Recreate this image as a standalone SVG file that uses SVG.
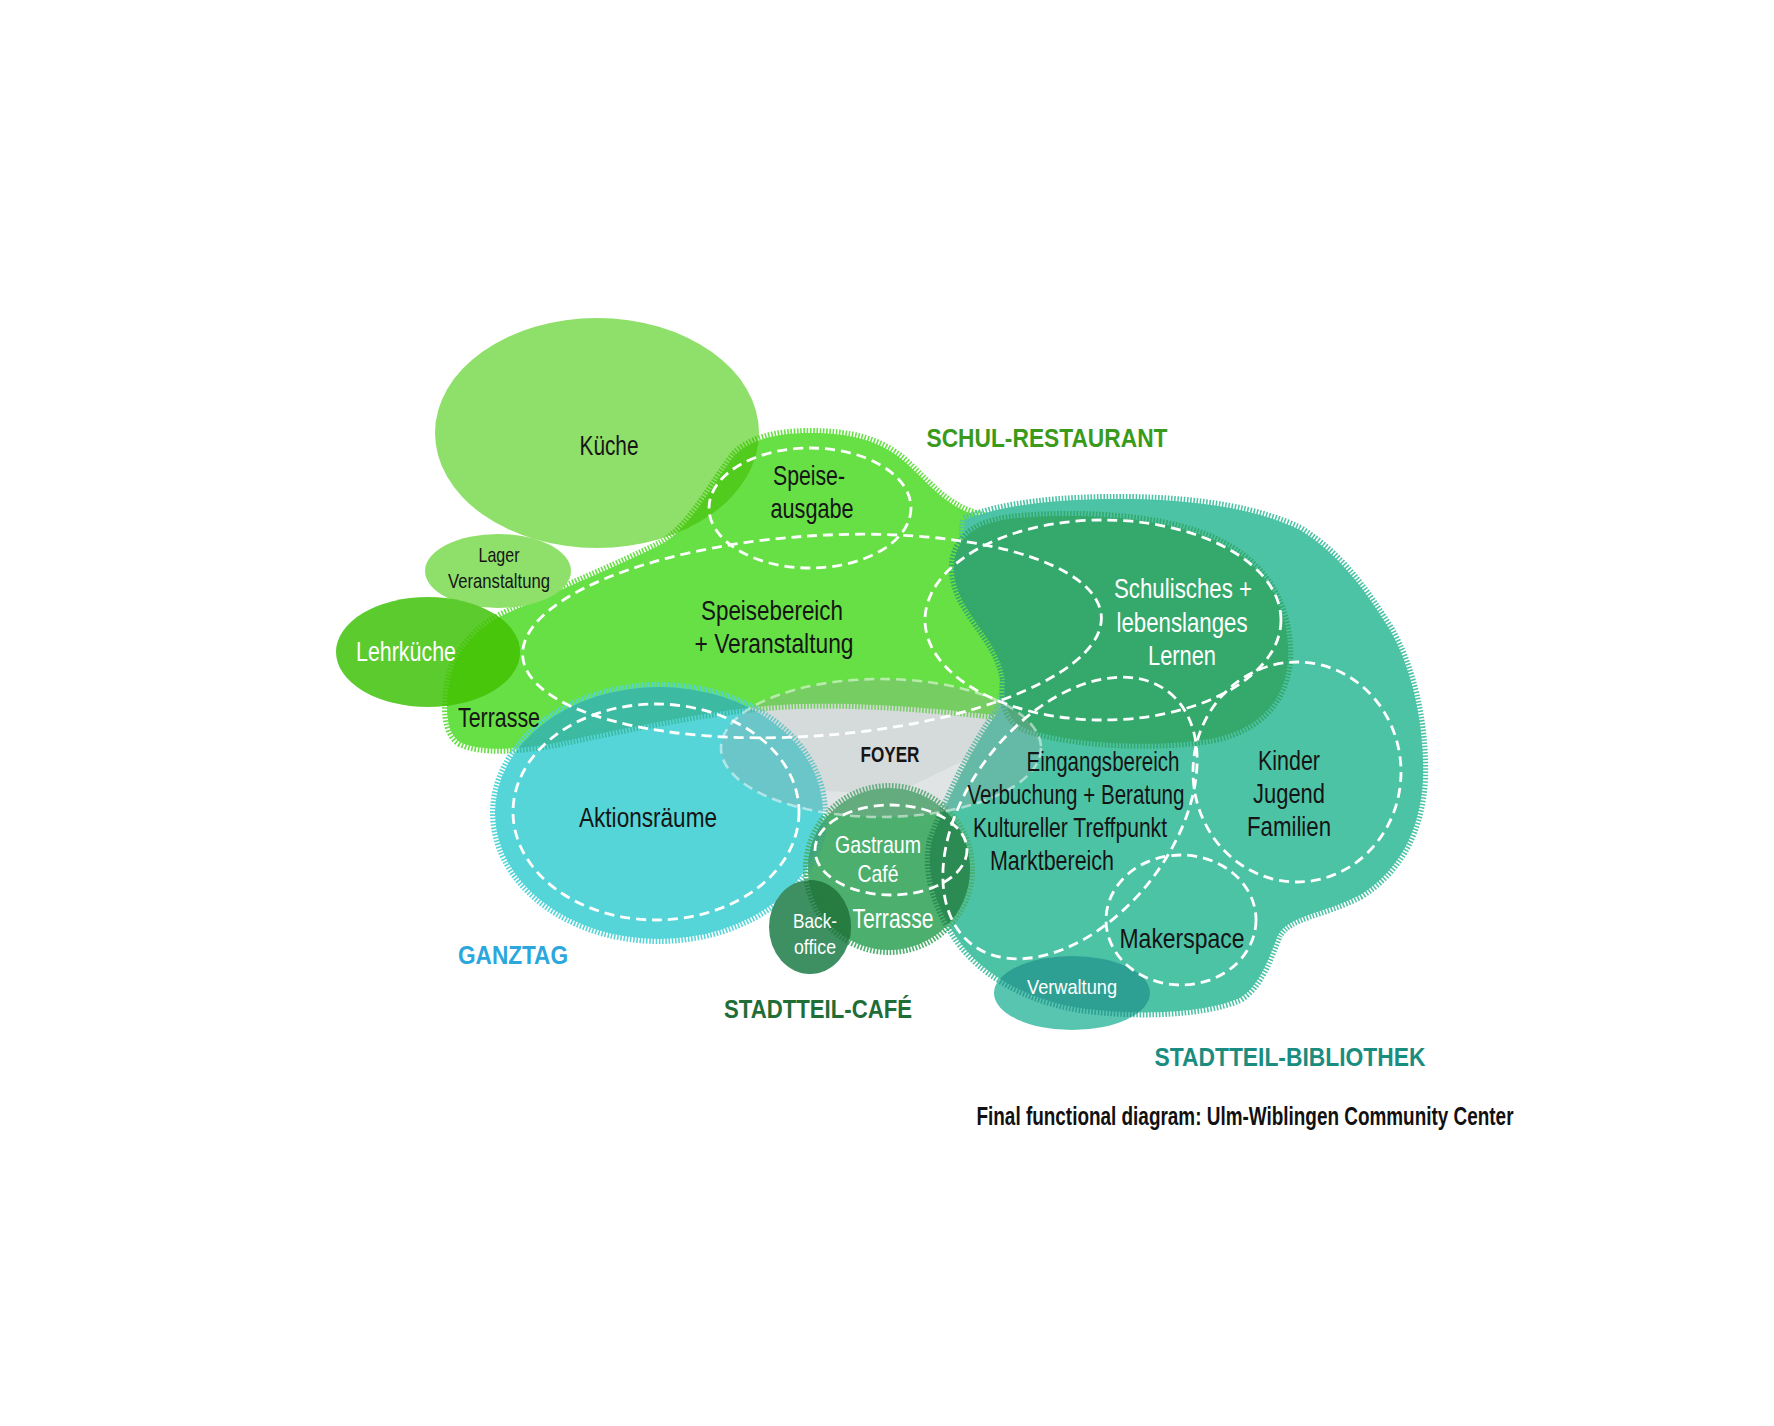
<svg xmlns="http://www.w3.org/2000/svg" xmlns:xlink="http://www.w3.org/1999/xlink" width="1774" height="1426" viewBox="0 0 1774 1426">
<style>
.h{stroke-width:10;stroke-dasharray:1.6 1.6}
.d{fill:none;stroke:#fff;stroke-width:2.8;stroke-dasharray:10 6}
.t{font-family:"Liberation Sans Narrow","Liberation Sans",Arial,sans-serif;font-size:28px;fill:#151515;text-anchor:middle}
.w{fill:#fff}
.s{font-size:21px}
.m{font-size:24px}
.b{font-weight:bold;font-size:26px}
</style>
<defs>
<path id="greenP" d="M735,455 C750,440 775,433 810,433 C850,433 880,440 905,462 C925,480 940,500 965,511 C985,519 1000,520 1015,525 C1040,560 1040,660 1005,716 C950,710 880,702 800,704 C730,706 640,725 560,742 C520,750 480,752 460,742 C445,732 445,705 450,680 C455,650 480,625 510,612 C560,590 620,565 660,545 C690,530 715,480 735,455 Z"/>
<path id="tealP" d="M965,520 C1000,505 1060,498 1131,499 C1200,500 1260,510 1300,530 C1340,555 1365,590 1390,630 C1410,665 1425,720 1423,780 C1420,830 1400,870 1360,895 C1320,915 1290,915 1278,935 C1268,960 1260,985 1240,998 C1200,1015 1130,1015 1080,1008 C1030,1000 980,975 955,935 C935,905 925,870 932,840 C945,805 970,750 998,712 C1010,690 1005,650 990,615 C975,585 960,550 965,520 Z"/>
<path id="darkP" d="M960,545 C975,520 1010,517 1060,516 C1130,515 1200,525 1240,555 C1275,580 1290,620 1288,660 C1285,700 1260,728 1215,738 C1160,748 1080,745 1030,730 C1005,722 1003,700 1005,680 C1000,650 980,630 968,610 C955,590 948,565 960,545 Z"/>
<ellipse id="cyanE" cx="659" cy="813" rx="164" ry="126"/>
<circle id="cafeC" cx="889" cy="869" r="81"/>
<clipPath id="cK"><ellipse cx="597" cy="433" rx="162" ry="115"/></clipPath>
<clipPath id="cL"><ellipse cx="428" cy="652" rx="92" ry="55"/></clipPath>
<clipPath id="cC"><use xlink:href="#cyanE"/></clipPath>
<clipPath id="cF"><use xlink:href="#cafeC"/></clipPath>
<clipPath id="cB"><ellipse cx="810" cy="927" rx="41" ry="47"/></clipPath>
<clipPath id="cV"><ellipse cx="1072" cy="993" rx="78" ry="37"/></clipPath>
</defs>

<rect width="1774" height="1426" fill="#fff"/>

<g id="foyer">
<polygon points="748,700 1000,700 975,755 893,795 812,790 765,745" fill="#eef2f2"/>
</g>

<g id="schul-restaurant">
<use xlink:href="#greenP" fill="#66e045" stroke="#66e045" class="h"/>
</g>

<g id="kueche">
<ellipse cx="597" cy="433" rx="162" ry="115" fill="#8fe06a"/>
<use xlink:href="#greenP" fill="#52cb1f" stroke="#52cb1f" class="h" clip-path="url(#cK)"/>
</g>

<g id="lager">
<ellipse cx="498" cy="571" rx="73" ry="37" fill="#8fe06a"/>
</g>

<g id="lehrkueche">
<ellipse cx="428" cy="652" rx="92" ry="55" fill="#5ccb2e"/>
<use xlink:href="#greenP" fill="#48c60c" stroke="#48c60c" class="h" clip-path="url(#cL)"/>
</g>

<g id="bibliothek">
<use xlink:href="#tealP" fill="#4dc3a6" stroke="#4dc3a6" class="h"/>
</g>

<g id="schulisches">
<use xlink:href="#darkP" fill="#34a96b" stroke="#34a96b" class="h"/>
</g>

<g id="ganztag">
<use xlink:href="#cyanE" fill="#55d5d8" stroke="#55d5d8" class="h"/>
<use xlink:href="#greenP" fill="#3cbaa2" stroke="#3cbaa2" class="h" clip-path="url(#cC)"/>
</g>

<g id="cafe">
<use xlink:href="#cafeC" fill="#4caf6e" stroke="#4caf6e" class="h"/>
<use xlink:href="#tealP" fill="#2b8b52" stroke="#2b8b52" class="h" clip-path="url(#cF)"/>
<use xlink:href="#cyanE" fill="#3fa47e" stroke="#3fa47e" class="h" clip-path="url(#cF)"/>
</g>

<g id="backoffice">
<ellipse cx="810" cy="927" rx="41" ry="47" fill="#3e9062"/>
<use xlink:href="#cafeC" fill="#267c41" stroke="#267c41" class="h" clip-path="url(#cB)"/>
</g>

<g id="verwaltung">
<ellipse cx="1072" cy="993" rx="78" ry="37" fill="#57c5b0"/>
<use xlink:href="#tealP" fill="#2e9f93" stroke="#2e9f93" class="h" clip-path="url(#cV)"/>
</g>

<g id="foyer-zone">
<ellipse cx="881" cy="748" rx="160" ry="69" fill="#9aa6a6" fill-opacity="0.3" stroke="#fff" stroke-opacity="0.5" stroke-width="2.6" stroke-dasharray="10 6"/>
</g>

<g id="zones">
<ellipse class="d" cx="810" cy="508" rx="101" ry="60"/>
<ellipse class="d" cx="812" cy="636" rx="290" ry="100" transform="rotate(-4 812 636)"/>
<ellipse class="d" cx="1103" cy="620" rx="178" ry="100"/>
<ellipse class="d" cx="656" cy="812" rx="143" ry="108"/>
<ellipse class="d" cx="891" cy="850" rx="76" ry="45"/>
<ellipse class="d" cx="1070" cy="818" rx="160" ry="102" transform="rotate(-52 1070 818)"/>
<ellipse class="d" cx="1297" cy="772" rx="104" ry="110"/>
<ellipse class="d" cx="1181" cy="920" rx="75" ry="65"/>
</g>

<g id="labels">
<text class="t" x="609" y="455" textLength="59" lengthAdjust="spacingAndGlyphs">Küche</text>
<text class="t" x="809" y="485" textLength="72" lengthAdjust="spacingAndGlyphs">Speise-</text>
<text class="t" x="812" y="518" textLength="83" lengthAdjust="spacingAndGlyphs">ausgabe</text>
<text class="t s" x="499" y="562" textLength="41" lengthAdjust="spacingAndGlyphs">Lager</text>
<text class="t s" x="499" y="588" textLength="102" lengthAdjust="spacingAndGlyphs">Veranstaltung</text>
<text class="t w" x="406" y="661" textLength="100" lengthAdjust="spacingAndGlyphs">Lehrküche</text>
<text class="t" x="772" y="620" textLength="142" lengthAdjust="spacingAndGlyphs">Speisebereich</text>
<text class="t" x="774" y="653" textLength="159" lengthAdjust="spacingAndGlyphs">+ Veranstaltung</text>
<text class="t" x="499" y="727" textLength="82" lengthAdjust="spacingAndGlyphs">Terrasse</text>
<text class="t w" x="1183" y="598" textLength="138" lengthAdjust="spacingAndGlyphs">Schulisches +</text>
<text class="t w" x="1182" y="632" textLength="131" lengthAdjust="spacingAndGlyphs">lebenslanges</text>
<text class="t w" x="1182" y="665" textLength="68" lengthAdjust="spacingAndGlyphs">Lernen</text>
<text class="t b" x="890" y="762" style="font-size:22px" textLength="59" lengthAdjust="spacingAndGlyphs">FOYER</text>
<text class="t" x="1103" y="771" textLength="153" lengthAdjust="spacingAndGlyphs">Eingangsbereich</text>
<text class="t" x="1076" y="804" textLength="217" lengthAdjust="spacingAndGlyphs">Verbuchung + Beratung</text>
<text class="t" x="1070" y="837" textLength="194" lengthAdjust="spacingAndGlyphs">Kultureller Treffpunkt</text>
<text class="t" x="1052" y="870" textLength="124" lengthAdjust="spacingAndGlyphs">Marktbereich</text>
<text class="t" x="1289" y="770" textLength="62" lengthAdjust="spacingAndGlyphs">Kinder</text>
<text class="t" x="1289" y="803" textLength="72" lengthAdjust="spacingAndGlyphs">Jugend</text>
<text class="t" x="1289" y="836" textLength="84" lengthAdjust="spacingAndGlyphs">Familien</text>
<text class="t" x="648" y="827" textLength="138" lengthAdjust="spacingAndGlyphs">Aktionsräume</text>
<text class="t w m" x="878" y="853" textLength="86" lengthAdjust="spacingAndGlyphs">Gastraum</text>
<text class="t w m" x="878" y="882" textLength="41" lengthAdjust="spacingAndGlyphs">Café</text>
<text class="t w" x="893" y="928" textLength="81" lengthAdjust="spacingAndGlyphs">Terrasse</text>
<text class="t w s" x="815" y="928" textLength="44" lengthAdjust="spacingAndGlyphs">Back-</text>
<text class="t w s" x="815" y="954" textLength="42" lengthAdjust="spacingAndGlyphs">office</text>
<text class="t" x="1182" y="948" textLength="125" lengthAdjust="spacingAndGlyphs">Makerspace</text>
<text class="t w s" x="1072" y="994" textLength="90" lengthAdjust="spacingAndGlyphs">Verwaltung</text>
<text class="t b" x="1047" y="447" style="fill:#3a9a1c" textLength="241" lengthAdjust="spacingAndGlyphs">SCHUL-RESTAURANT</text>
<text class="t b" x="513" y="964" style="fill:#2ba7de" textLength="110" lengthAdjust="spacingAndGlyphs">GANZTAG</text>
<text class="t b" x="818" y="1018" style="fill:#1f6d37" textLength="188" lengthAdjust="spacingAndGlyphs">STADTTEIL-CAFÉ</text>
<text class="t b" x="1290" y="1066" style="fill:#1a8d80" textLength="271" lengthAdjust="spacingAndGlyphs">STADTTEIL-BIBLIOTHEK</text>
<text class="t b" x="1245" y="1125" style="font-size:25px;fill:#111" textLength="537" lengthAdjust="spacingAndGlyphs">Final functional diagram: Ulm-Wiblingen Community Center</text>
</g>
</svg>
